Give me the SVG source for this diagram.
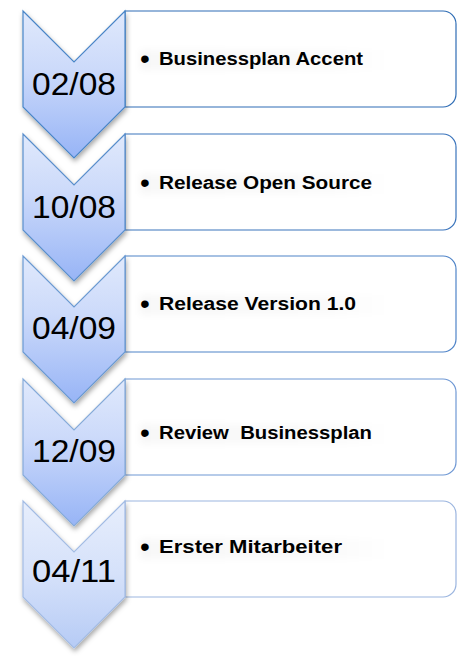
<svg xmlns="http://www.w3.org/2000/svg" width="458" height="661" viewBox="0 0 458 661">
<style>
.date{font-family:"Liberation Sans",Arial,sans-serif;font-size:32px;fill:#000;text-anchor:middle}
.item{font-family:"Liberation Sans",Arial,sans-serif;font-size:17.5px;font-weight:bold;fill:#000;white-space:pre}
.bul{font-family:"Liberation Sans",Arial,sans-serif;font-size:28px;fill:#000}
.box{fill:#fff;stroke-width:1.2}
.chev{stroke-width:1.2;filter:url(#sh)}
.band{fill:url(#band);filter:url(#bl)}
</style>
<defs>
<linearGradient id="g1" x1="0" y1="0" x2="0" y2="1">
<stop offset="0" stop-color="#e0e9fc"/>
<stop offset="0.4" stop-color="#ccdafa"/>
<stop offset="1" stop-color="#97b4f6"/>
</linearGradient>
<linearGradient id="g5" x1="0" y1="0" x2="0" y2="1">
<stop offset="0" stop-color="#e7eefc"/>
<stop offset="0.5" stop-color="#d5e1fa"/>
<stop offset="1" stop-color="#b6cbf5"/>
</linearGradient>
<linearGradient id="band" x1="0" y1="0" x2="1" y2="0">
<stop offset="0" stop-color="#000" stop-opacity="0.03"/>
<stop offset="0.75" stop-color="#000" stop-opacity="0.02"/>
<stop offset="1" stop-color="#000" stop-opacity="0"/>
</linearGradient>
<filter id="sh" x="-20%" y="-20%" width="150%" height="150%">
<feDropShadow dx="1" dy="3" stdDeviation="2.5" flood-color="#000" flood-opacity="0.35"/>
</filter>
<filter id="bl" x="-10%" y="-50%" width="120%" height="200%">
<feGaussianBlur stdDeviation="3"/>
</filter>
<path id="chv" d="M23,0 L74,51 L125,0 L125,96 L74,147 L23,96 Z"/>
<path id="bx" d="M125,0 H443 A13,13 0 0 1 456,13 V83 A13,13 0 0 1 443,96 H125 Z"/>
</defs>

<g id="node5" transform="translate(0,501)">
<use href="#bx" class="box" stroke="#9bb5df"/>
<rect class="band" x="140" y="38" width="250" height="20"/>
<text class="bul" x="140" y="55">•</text>
<text class="item" x="159" y="52" textLength="183" lengthAdjust="spacingAndGlyphs">Erster Mitarbeiter</text>
<use href="#chv" class="chev" fill="url(#g5)" stroke="#a3bce4"/>
<text class="date" x="74" y="81" textLength="84" lengthAdjust="spacingAndGlyphs">04/11</text>
</g>

<g id="node4" transform="translate(0,379)">
<use href="#bx" class="box" stroke="#6f98d4"/>
<rect class="band" x="140" y="45" width="250" height="20"/>
<text class="bul" x="140" y="63">•</text>
<text class="item" x="159" y="60" textLength="213" lengthAdjust="spacingAndGlyphs" xml:space="preserve">Review  Businessplan</text>
<use href="#chv" class="chev" fill="url(#g1)" stroke="#86abd9"/>
<text class="date" x="74" y="83" textLength="84" lengthAdjust="spacingAndGlyphs">12/09</text>
</g>

<g id="node3" transform="translate(0,256)">
<use href="#bx" class="box" stroke="#4f84c8"/>
<rect class="band" x="140" y="39" width="250" height="20"/>
<text class="bul" x="140" y="57">•</text>
<text class="item" x="159" y="54" textLength="197" lengthAdjust="spacingAndGlyphs">Release Version 1.0</text>
<use href="#chv" class="chev" fill="url(#g1)" stroke="#6b9ad2"/>
<text class="date" x="74" y="83" textLength="84" lengthAdjust="spacingAndGlyphs">04/09</text>
</g>

<g id="node2" transform="translate(0,134)">
<use href="#bx" class="box" stroke="#3a74bc"/>
<rect class="band" x="140" y="40" width="250" height="20"/>
<text class="bul" x="140" y="58">•</text>
<text class="item" x="159" y="55" textLength="213" lengthAdjust="spacingAndGlyphs">Release Open Source</text>
<use href="#chv" class="chev" fill="url(#g1)" stroke="#5a8fcc"/>
<text class="date" x="74" y="84" textLength="84" lengthAdjust="spacingAndGlyphs">10/08</text>
</g>

<g id="node1" transform="translate(0,11)">
<use href="#bx" class="box" stroke="#2f6db5"/>
<rect class="band" x="140" y="39" width="250" height="20"/>
<text class="bul" x="140" y="57">•</text>
<text class="item" x="159" y="54" textLength="204" lengthAdjust="spacingAndGlyphs">Businessplan Accent</text>
<use href="#chv" class="chev" fill="url(#g1)" stroke="#4a86c8"/>
<text class="date" x="74" y="84" textLength="84" lengthAdjust="spacingAndGlyphs">02/08</text>
</g>

<g id="connectors"></g>
</svg>
